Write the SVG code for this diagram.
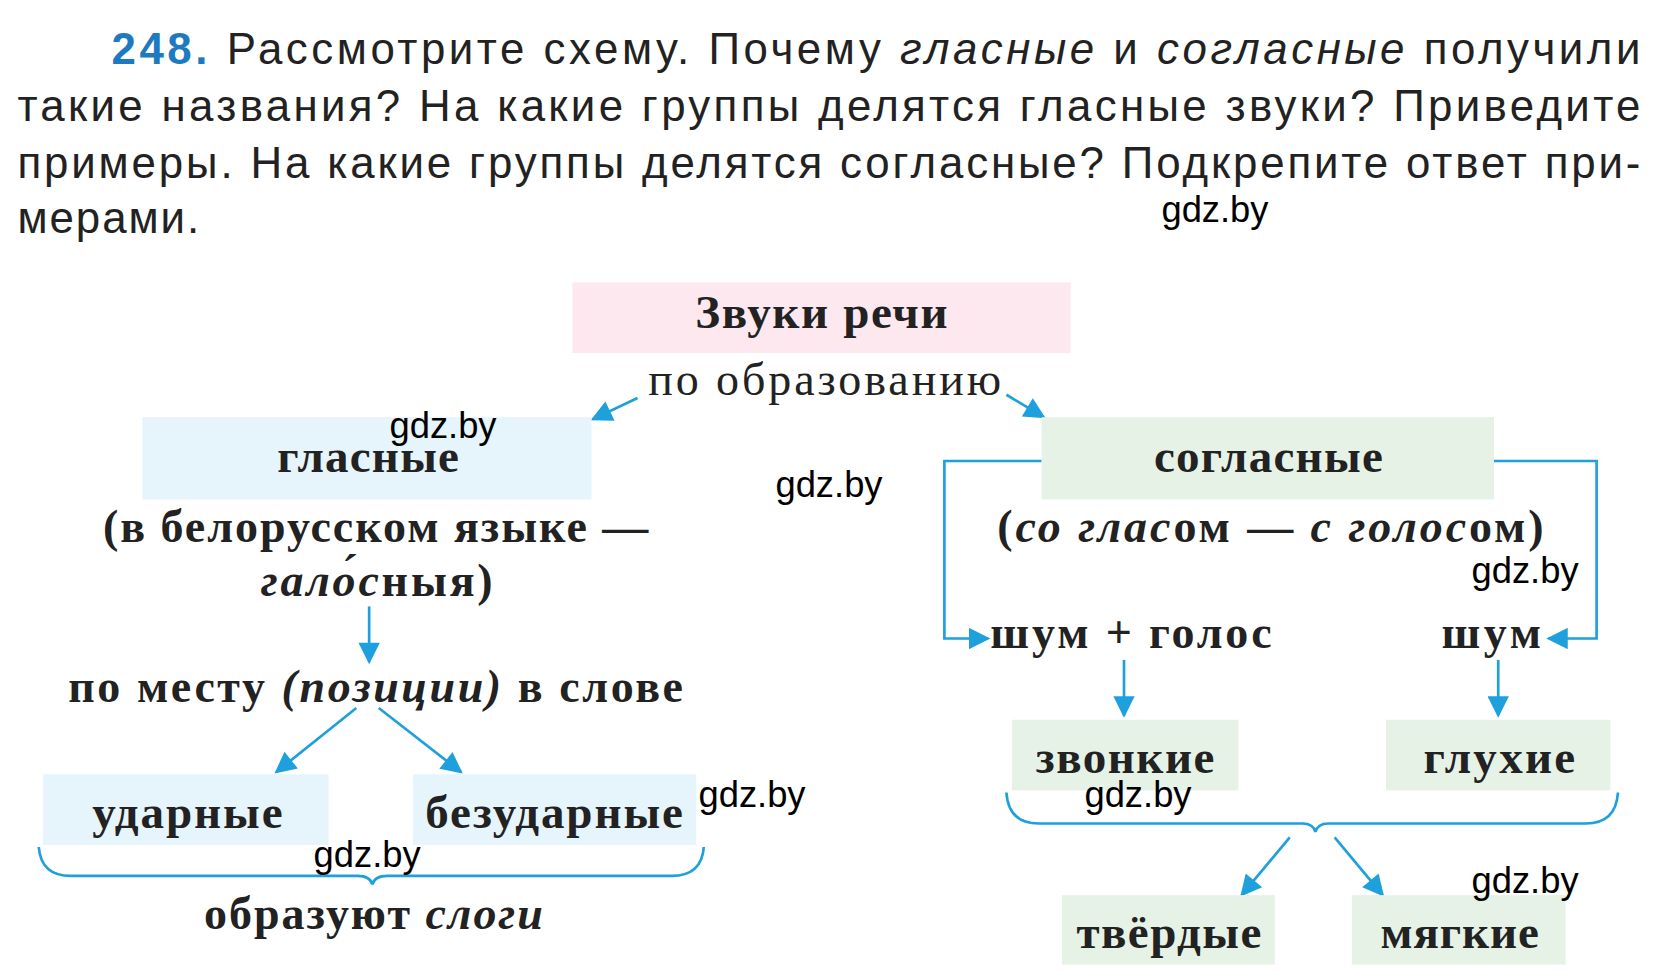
<svg xmlns="http://www.w3.org/2000/svg" width="1668" height="978" viewBox="0 0 1668 978">
<style>
.h{font-family:"Liberation Sans",Arial,sans-serif;font-size:41px;fill:#222}
.b{font-family:"Liberation Serif",serif;font-size:44px;font-weight:bold;fill:#222;text-anchor:middle}
.t{font-family:"Liberation Serif",serif;font-size:43px;fill:#222}
.w{font-family:"Liberation Sans",Arial,sans-serif;font-size:34px;fill:#000}
.c{fill:none;stroke:#1ea0dc;stroke-width:2.5}
</style>
<defs>
<marker id="m" viewBox="0 0 10 10" refX="9" refY="5" markerWidth="22" markerHeight="20" orient="auto" markerUnits="userSpaceOnUse"><path d="M0,0L10,5L0,10z" fill="#1ea0dc"/></marker></defs>
<rect width="1668" height="978" fill="#fff"/>
<g transform="translate(-4,-3) scale(1.0692)">
<g id="task">
<text class="h" x="108" y="63" textLength="1430" lengthAdjust="spacing"><tspan fill="#1e7ac0" font-weight="bold">248.</tspan> Рассмотрите схему. Почему <tspan font-style="italic">гласные</tspan> и <tspan font-style="italic">согласные</tspan> получили</text>
<text class="h" x="20" y="116" textLength="1518" lengthAdjust="spacing">такие названия? На какие группы делятся гласные звуки? Приведите</text>
<text class="h" x="20" y="169" textLength="1518" lengthAdjust="spacing">примеры. На какие группы делятся согласные? Подкрепите ответ при-</text>
<text class="h" x="20" y="221" textLength="170" lengthAdjust="spacing">мерами.</text>
</g>
<g id="connectors">
<path class="c" marker-end="url(#m)" d="M600,375L558,395"/>
<path class="c" marker-end="url(#m)" d="M945,372L980,393"/>
<path class="c" marker-end="url(#m)" d="M349,570V622"/>
<path class="c" marker-end="url(#m)" d="M337,665L262,725"/>
<path class="c" marker-end="url(#m)" d="M358,665L435,725"/>
<path class="c" d="M40,795Q42,822 70,822H338Q350,822 352,830Q354,822 366,822H632Q660,822 662,795"/>
<path class="c" marker-end="url(#m)" d="M978,434H887V600H928"/>
<path class="c" marker-end="url(#m)" d="M1401,434H1497V600H1452"/>
<path class="c" marker-end="url(#m)" d="M1055,620V672"/>
<path class="c" marker-end="url(#m)" d="M1405,620V672"/>
<path class="c" d="M945,744Q947,773 975,773H1222Q1232,773 1234,781Q1236,773 1246,773H1487Q1515,773 1517,744"/>
<path class="c" marker-end="url(#m)" d="M1210,786L1165,840"/>
<path class="c" marker-end="url(#m)" d="M1252,786L1297,840"/>
</g>
<g id="zvuki"><rect x="539" y="267" width="466" height="66" fill="#fce8ee"/><text class="b" x="772" y="310" textLength="236" lengthAdjust="spacing">Звуки речи</text></g>
<text class="t" x="775" y="372" text-anchor="middle" textLength="330" lengthAdjust="spacing">по образованию</text>
<g id="glasnye"><rect x="137" y="393" width="420" height="77" fill="#e6f4fb"/><text class="b" x="348" y="444" textLength="170" lengthAdjust="spacing">гласные</text></g>
<g id="soglasnye"><rect x="978" y="393" width="423" height="77" fill="#e6f2e6"/><text class="b" x="1190" y="444" textLength="214" lengthAdjust="spacing">согласные</text></g>
<text class="t" x="355" y="510" text-anchor="middle" font-weight="bold" textLength="510" lengthAdjust="spacing">(в белорусском языке —</text>
<text class="t" x="356" y="560" text-anchor="middle" font-weight="bold" textLength="217" lengthAdjust="spacing"><tspan font-style="italic">гало́с</tspan>ныя)</text>
<text class="t" x="355" y="659" text-anchor="middle" font-weight="bold" textLength="575" lengthAdjust="spacing">по месту <tspan font-style="italic">(позиции)</tspan> в слове</text>
<g id="udarnye"><rect x="44" y="727" width="267" height="66" fill="#e6f4fb"/><text class="b" x="179" y="777" textLength="178" lengthAdjust="spacing">ударные</text></g>
<g id="bezudarnye"><rect x="390" y="727" width="265" height="66" fill="#e6f4fb"/><text class="b" x="522" y="777" textLength="241" lengthAdjust="spacing">безударные</text></g>
<text class="t" x="353" y="872" text-anchor="middle" font-weight="bold" textLength="317" lengthAdjust="spacing">образуют <tspan font-style="italic">слоги</tspan></text>
<text class="t" x="1192" y="510" text-anchor="middle" font-weight="bold" textLength="511" lengthAdjust="spacing">(<tspan font-style="italic">со глас</tspan>ом — <tspan font-style="italic">с голос</tspan>ом)</text>
<text class="t" x="930" y="609" font-weight="bold" textLength="263" lengthAdjust="spacing">шум + голос</text>
<text class="t" x="1352" y="609" font-weight="bold" textLength="93" lengthAdjust="spacing">шум</text>
<g id="zvonkie"><rect x="950" y="676" width="212" height="66" fill="#e6f2e6"/><text class="b" x="1056" y="726" textLength="167" lengthAdjust="spacing">звонкие</text></g>
<g id="gluhie"><rect x="1300" y="676" width="210" height="66" fill="#e6f2e6"/><text class="b" x="1406" y="726" textLength="142" lengthAdjust="spacing">глухие</text></g>
<g id="tvyordye"><rect x="997" y="840" width="199" height="65" fill="#e6f2e6"/><text class="b" x="1097" y="889" textLength="173" lengthAdjust="spacing">твёрдые</text></g>
<g id="myagkie"><rect x="1268" y="840" width="200" height="65" fill="#e6f2e6"/><text class="b" x="1369" y="889" textLength="148" lengthAdjust="spacing">мягкие</text></g>
<g id="wm">
<text class="w" x="1090" y="210">gdz.by</text><text class="w" x="368" y="412">gdz.by</text><text class="w" x="729" y="468">gdz.by</text><text class="w" x="1380" y="548">gdz.by</text><text class="w" x="657" y="758">gdz.by</text><text class="w" x="1018" y="758">gdz.by</text><text class="w" x="297" y="814">gdz.by</text><text class="w" x="1380" y="838">gdz.by</text>
</g>
</g>
</svg>
